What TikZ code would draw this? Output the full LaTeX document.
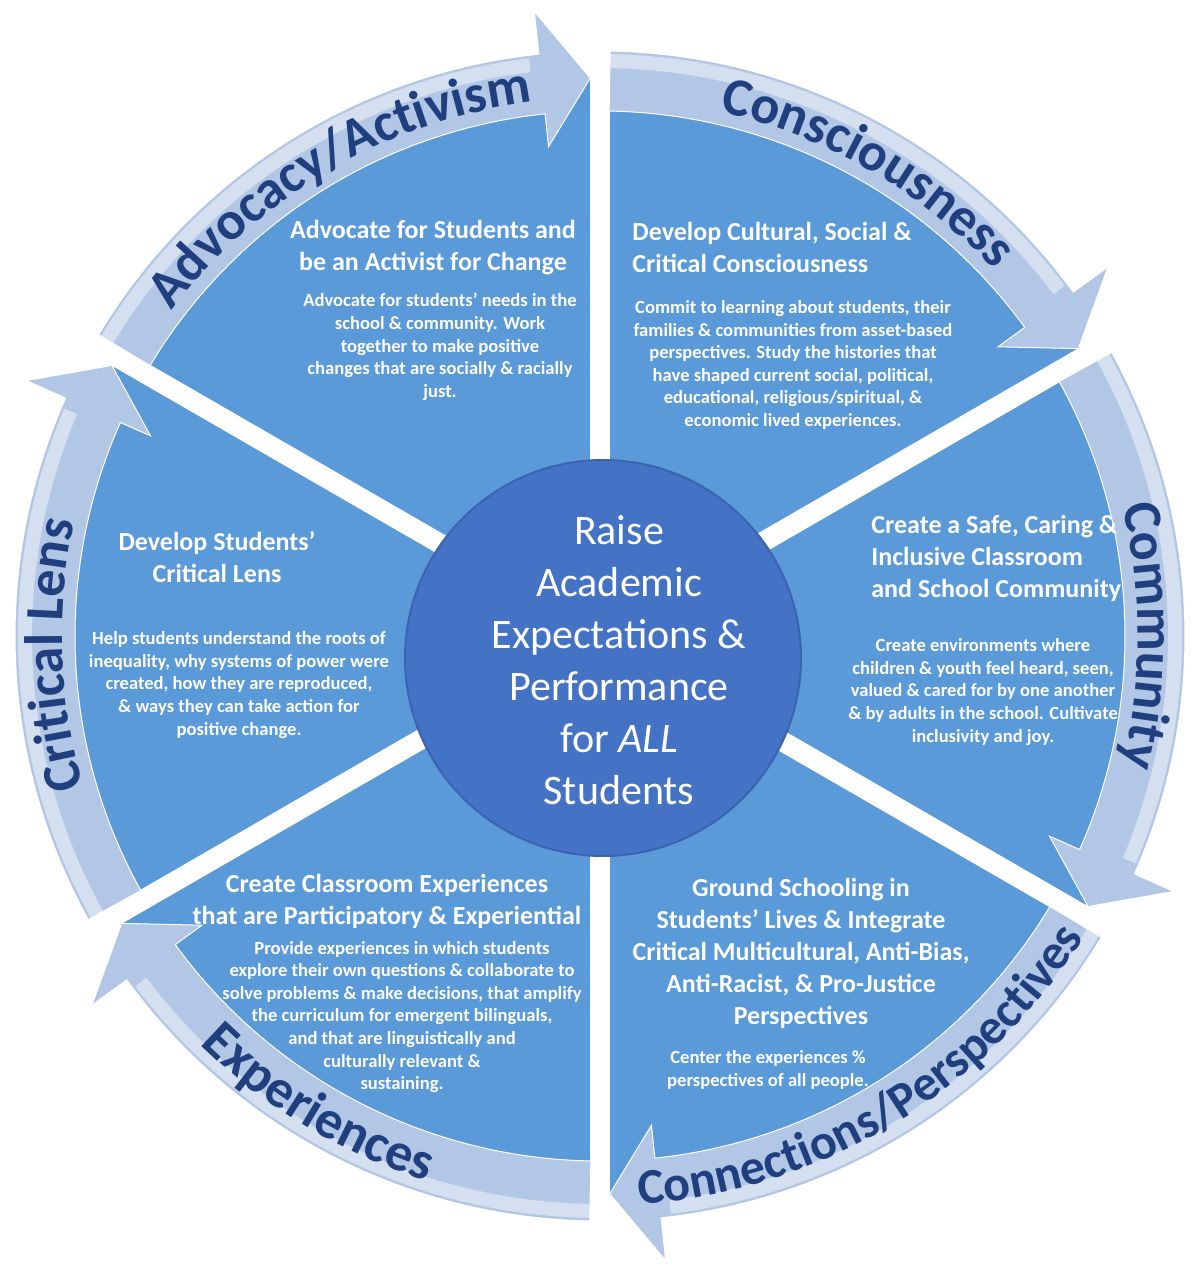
\documentclass[tikz,border=0pt]{standalone}
\usepackage{fontspec}
\setmainfont{Carlito}
\usetikzlibrary{decorations.text}

\definecolor{wedgeBlue}{HTML}{5A9AD8}
\definecolor{hubBlue}{HTML}{4472C4}
\definecolor{hubEdge}{HTML}{3B64B0}
\definecolor{bandBlue}{HTML}{B2C6E5}
\definecolor{bandInk}{HTML}{1F3F7F}
\newcommand{\ringFont}{\bfseries\fontsize{27}{30}\selectfont}
\newcommand{\smallRingFont}{\bfseries\fontsize{25}{28}\selectfont}

\tikzset{
  gapLine/.style={white, line width=10pt},
  band/.style={fill=bandBlue, draw=white, line width=0.5pt},
  bandShine/.style={white, opacity=0.45, line width=7pt},
  ringLabel/.style={decorate, decoration={text along path, text align=center, text color=bandInk, text={|\ringFont|#1}}},
  heading/.style={text=white, inner sep=0pt, font=\bfseries\fontsize{13}{16}\selectfont},
  blurb/.style={text=white, inner sep=0pt, align=center, font=\bfseries\fontsize{9.3}{11.3}\selectfont},
}

\begin{document}
\begin{tikzpicture}[x=0.5pt, y=0.5pt]
\useasboundingbox (-600,-632) rectangle (591,636);
\fill[wedgeBlue] (0,0) circle[radius=560];
\draw[gapLine] (0,0) -- (30:600);
\draw[gapLine] (0,0) -- (90:600);
\draw[gapLine] (0,0) -- (150:600);
\draw[gapLine] (0,0) -- (210:600);
\draw[gapLine] (0,0) -- (270:600);
\draw[gapLine] (0,0) -- (330:600);

\fill[band] (149:585) arc[start angle=149, end angle=96, radius=585] -- (96:628) -- (91:558) -- (96:492) -- (96:525) arc[start angle=96, end angle=149, radius=525] -- cycle;
\draw[bandShine] (149:575) arc[start angle=149, end angle=97, radius=575];
\path[ringLabel={Advocacy/Activism}] (150:538) arc[start angle=150, end angle=90, radius=538];

\fill[band] (89:585) arc[start angle=89, end angle=36, radius=585] -- (36:628) -- (31:558) -- (36:492) -- (36:525) arc[start angle=36, end angle=89, radius=525] -- cycle;
\draw[bandShine] (89:575) arc[start angle=89, end angle=37, radius=575];
\path[ringLabel={Consciousness}] (90:538) arc[start angle=90, end angle=30, radius=538];

\fill[band] (29:585) arc[start angle=29, end angle=-24, radius=585] -- (-24:628) -- (-29:558) -- (-24:492) -- (-24:525) arc[start angle=-24, end angle=29, radius=525] -- cycle;
\draw[bandShine] (29:575) arc[start angle=29, end angle=-23, radius=575];
\path[ringLabel={Community}] (30:538) arc[start angle=30, end angle=-30, radius=538];

\fill[band] (-31:585) arc[start angle=-31, end angle=-84, radius=585] -- (-84:628) -- (-89:558) -- (-84:492) -- (-84:525) arc[start angle=-84, end angle=-31, radius=525] -- cycle;
\draw[bandShine] (-31:575) arc[start angle=-31, end angle=-83, radius=575];
\path[ringLabel={}, decoration={text={|\smallRingFont|Connections/Perspectives}}] (271:570) arc[start angle=271, end angle=331, radius=570];

\fill[band] (-91:585) arc[start angle=-91, end angle=-144, radius=585] -- (-144:628) -- (-149:558) -- (-144:492) -- (-144:525) arc[start angle=-144, end angle=-91, radius=525] -- cycle;
\draw[bandShine] (-91:575) arc[start angle=-91, end angle=-143, radius=575];
\path[ringLabel={Experiences}] (209:572) arc[start angle=209, end angle=269, radius=572];

\fill[band] (209:585) arc[start angle=209, end angle=156, radius=585] -- (156:628) -- (151:558) -- (156:492) -- (156:525) arc[start angle=156, end angle=209, radius=525] -- cycle;
\draw[bandShine] (209:575) arc[start angle=209, end angle=157, radius=575];
\path[ringLabel={Critical Lens}] (212:538) arc[start angle=212, end angle=152, radius=538];

\fill[hubBlue, draw=hubEdge, line width=1pt] (3,-22) circle[radius=198];
\node[text=white, align=center, font=\fontsize{21}{26}\selectfont] (goal) at (19,-24) {Raise\\Academic\\Expectations \&\\Performance\\for \textit{ALL}\\Students};

\node[heading, align=center] (advocacyTitle) at (-167,388) {Advocate for Students and\\be an Activist for Change};
\node[blurb] (advocacyText) at (-160,289) {Advocate for students' needs in the\\school \& community. Work\\together to make positive\\changes that are socially \& racially\\just.};

\node[heading, align=left, anchor=west] (consciousnessTitle) at (32,389) {Develop Cultural, Social \&\\Critical Consciousness};
\node[blurb] (consciousnessText) at (193,271) {Commit to learning about students, their\\families \& communities from asset-based\\perspectives. Study the histories that\\have shaped current social, political,\\educational, religious/spiritual, \&\\economic lived experiences.};

\node[heading, align=left, anchor=west] (communityTitle) at (271,78) {Create a Safe, Caring \&\\Inclusive Classroom\\and School Community};
\node[blurb] (communityText) at (383,-56) {Create environments where\\children \& youth feel heard, seen,\\valued \& cared for by one another\\\& by adults in the school. Cultivate\\inclusivity and joy.};

\node[heading, align=center] (lensTitle) at (-383,79) {Develop Students'\\Critical Lens};
\node[blurb] (lensText) at (-361,-49) {Help students understand the roots of\\inequality, why systems of power were\\created, how they are reproduced,\\\& ways they can take action for\\positive change.};

\node[heading, align=center] (experienceTitle) at (-213,-265) {Create Classroom Experiences\\that are Participatory \& Experiential};
\node[blurb] (experienceText) at (-198,-381) {Provide experiences in which students\\explore their own questions \& collaborate to\\solve problems \& make decisions, that amplify\\the curriculum for emergent bilinguals,\\and that are linguistically and\\culturally relevant \&\\sustaining.};

\node[heading, align=center] (perspectiveTitle) at (201,-317) {Ground Schooling in\\Students' Lives \& Integrate\\Critical Multicultural, Anti-Bias,\\Anti-Racist, \& Pro-Justice\\Perspectives};
\node[blurb] (perspectiveText) at (168,-434) {Center the experiences \%\\perspectives of all people.};
\end{tikzpicture}
\end{document}
